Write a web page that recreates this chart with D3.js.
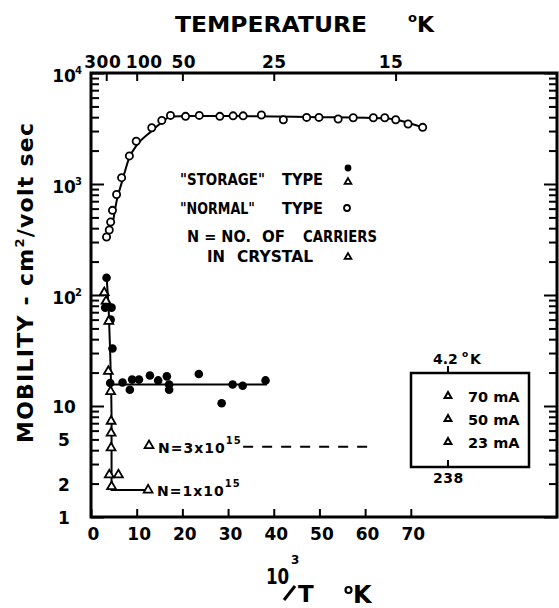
<!DOCTYPE html>
<html>
<head>
<meta charset="utf-8">
<script src="https://cdn.jsdelivr.net/npm/d3@7"></script>
<style>
  body { margin: 0; background: #fff; }
  svg { font-family: 'DejaVu Sans', sans-serif; font-weight: bold; }
  .tick text { font-family: 'DejaVu Sans', sans-serif; font-weight: bold; font-size: 16px; }
</style>
</head>
<body>
<div id="chart"></div>
<script>
'use strict';
// mobility vs 10^3/T, log y
const xTickValues = [0, 10, 20, 30, 40, 50, 60, 70]
const tempTicks = [300, 100, 50, 25, 15]
const yLabelValues = [1, 2, 5, 10, 100, 1000, 10000]
const yLabelBase = ['1', '2', '5', '10', '10', '10', '10']
const yLabelSup = ['', '', '', '', '2', '3', '4']

// "normal" type, open circles
const normalX = [3.4, 4.0, 4.3, 4.7, 5.6, 6.7, 8.4, 9.9, 13.3, 15.5, 17.4, 20.7, 23.7, 28.2, 31.1, 33.3, 37.3, 42.1, 47.2, 49.9, 54.1, 57.4, 61.8, 64.3, 66.7, 69.4, 72.6]
const normalY = [333, 385, 454, 579, 804, 1140, 1790, 2430, 3210, 3740, 4150, 4070, 4150, 4070, 4110, 4110, 4180, 3790, 3980, 3980, 3850, 3950, 3950, 3950, 3790, 3470, 3240]
const normalFitX = [4.8, 5.6, 6.8, 8.4, 9.9, 13.3, 15.5, 17.5, 22, 35, 50, 60, 65, 68, 72.6]
const normalFitY = [450, 700, 1050, 1740, 2200, 3000, 3600, 4050, 4100, 4080, 4000, 3950, 3900, 3700, 3240]

// "storage" type, filled dots
const storageDotX = [3.4, 3.1, 4.5, 4.3, 4.7, 4.2, 6.9, 8.5, 9.0, 10.5, 12.9, 14.7, 16.6, 17.1, 17.1, 23.6, 28.6, 31.0, 33.2, 38.2]
const storageDotY = [143, 77, 77, 60, 33, 16.1, 16.3, 14.0, 17.3, 17.3, 18.8, 17.0, 18.5, 15.6, 14.0, 19.4, 10.6, 15.6, 15.2, 17.0]
const storageDotFitX = [4.2, 38.5]
const storageDotFitY = [15.6, 15.6]

// "storage" type, triangles
const storageTriX = [2.9, 3.3, 3.9, 3.8, 4.3, 4.4, 4.4, 4.4, 4.0, 6.0, 4.5, 12.5]
const storageTriY = [105, 88, 58, 20.5, 13.5, 7.3, 5.7, 4.2, 2.4, 2.4, 1.88, 1.75]
const dropFitX = [3.43, 3.65, 3.87, 4.0, 4.16, 4.3, 4.4, 4.5, 4.5, 12.5]
const dropFitY = [143, 105, 74, 52, 34, 21, 16, 8, 1.75, 1.75]

// N = 3x10^15 level
const n3X = [33.3, 60.5]
const n3Y = [4.3, 4.3]
const n3MarkX = [12.7]
const n3MarkY = [4.4]

const currentLabels = ['70 mA', '50 mA', '23 mA']

const W = 559, H = 608
const frame = { left: 91, right: 557, top: 73, bottom: 517 }

const svg = d3.select('#chart').append('svg')
    .attr('width', W)
    .attr('height', H)

const x = d3.scaleLinear()
    .domain([0, 102])
    .range([frame.left, frame.right])
const y = d3.scaleLog()
    .domain([1, 1e4])
    .range([frame.bottom, frame.top])

const minorTicks = y.ticks().filter(d => Math.log10(d) % 1 !== 0)
const majorTicks = [1, 10, 100, 1000, 10000]

function styleAxis(g) {
    g.select('.domain').remove()
    g.selectAll('.tick line').attr('stroke', '#000').attr('stroke-width', 2)
    g.selectAll('.tick text').attr('fill', '#000')
}

svg.append('g') // bottom axis, ticks inside
    .attr('transform', `translate(0,${frame.bottom})`)
    .call(d3.axisBottom(x).tickValues(xTickValues).tickSizeInner(-8).tickSizeOuter(0).tickPadding(11).tickFormat(d3.format('d')))
    .call(styleAxis)
    .selectAll('.tick text').style('font-size', '17px').attr('dx', 2)

const tempLabelShift = [-4, 7, 1, 0, -5] // hand lettering sits a bit off the ticks
svg.append('g') // top temperature axis
    .attr('transform', `translate(0,${frame.top})`)
    .call(d3.axisTop(x).tickValues(tempTicks.map(t => 1000 / t)).tickSizeInner(-8).tickSizeOuter(0).tickPadding(5)
        .tickFormat((d, i) => tempTicks[i]))
    .call(styleAxis)
    .selectAll('.tick text')
    .style('font-size', '17px').style('letter-spacing', '0.5px')
    .attr('dx', (d, i) => tempLabelShift[i])

svg.append('g') // left minor
    .attr('transform', `translate(${frame.left},0)`)
    .call(d3.axisLeft(y).tickValues(minorTicks).tickSizeInner(-8).tickSizeOuter(0).tickFormat(''))
    .call(styleAxis)
svg.append('g') // left major
    .attr('transform', `translate(${frame.left},0)`)
    .call(d3.axisLeft(y).tickValues(majorTicks).tickSizeInner(-13).tickSizeOuter(0).tickFormat(''))
    .call(styleAxis)
svg.append('g') // right minor
    .attr('transform', `translate(${frame.right},0)`)
    .call(d3.axisRight(y).tickValues(minorTicks).tickSizeInner(-8).tickSizeOuter(0).tickFormat(''))
    .call(styleAxis)
svg.append('g') // right major
    .attr('transform', `translate(${frame.right},0)`)
    .call(d3.axisRight(y).tickValues(majorTicks).tickSizeInner(-13).tickSizeOuter(0).tickFormat(''))
    .call(styleAxis)

// left tick labels with exponents
const yl = svg.append('g').attr('class', 'ylabels')
yl.selectAll('text.base').data(yLabelValues).enter().append('text')
    .attr('class', 'base')
    .attr('x', 64)
    .attr('y', (d, i) => y(d) + (i > 3 ? 9 : 7))
    .attr('text-anchor', 'middle')
    .style('font-size', '17px')
    .text((d, i) => yLabelBase[i])
yl.selectAll('text.sup').data(yLabelValues).enter().append('text')
    .attr('class', 'sup')
    .attr('x', 75)
    .attr('y', (d, i) => y(d) + 1)
    .style('font-size', '10px')
    .text((d, i) => yLabelSup[i])

// frame
svg.append('rect')
    .attr('x', frame.left)
    .attr('y', frame.top)
    .attr('width', frame.right - frame.left)
    .attr('height', frame.bottom - frame.top)
    .attr('fill', 'none')
    .attr('stroke', '#000')
    .attr('stroke-width', 3)

const line = d3.line()
    .x(d => x(d[0]))
    .y(d => y(d[1]))
const zip = (a, b) => a.map((v, i) => [v, b[i]])

svg.append('path') // normal fit
    .datum(zip(normalFitX, normalFitY))
    .attr('fill', 'none').attr('stroke', '#000').attr('stroke-width', 2)
    .attr('d', line.curve(d3.curveMonotoneX))
line.curve(d3.curveLinear)

svg.append('path') // storage dot level
    .datum(zip(storageDotFitX, storageDotFitY))
    .attr('fill', 'none').attr('stroke', '#000').attr('stroke-width', 2)
    .attr('d', line)

svg.append('path') // steep drop + N=1e15 level
    .datum(zip(dropFitX, dropFitY))
    .attr('fill', 'none').attr('stroke', '#000').attr('stroke-width', 2)
    .attr('d', line)

svg.append('path') // N=3e15 dashed
    .datum(zip(n3X, n3Y))
    .attr('fill', 'none').attr('stroke', '#000').attr('stroke-width', 2)
    .attr('stroke-dasharray', '10,9')
    .attr('d', line)

svg.append('g').selectAll('circle') // normal circles
    .data(zip(normalX, normalY)).enter().append('circle')
    .attr('cx', d => x(d[0])).attr('cy', d => y(d[1]))
    .attr('r', 3.6)
    .attr('fill', '#fff').attr('stroke', '#000').attr('stroke-width', 1.8)

svg.append('g').selectAll('circle') // storage dots
    .data(zip(storageDotX, storageDotY)).enter().append('circle')
    .attr('cx', d => x(d[0])).attr('cy', d => y(d[1]))
    .attr('r', 4.3)
    .attr('fill', '#000')

const tri = d3.symbol(d3.symbolTriangle, 34)
svg.append('g').selectAll('path') // storage triangles
    .data(zip(storageTriX, storageTriY).concat(zip(n3MarkX, n3MarkY))).enter().append('path')
    .attr('transform', d => `translate(${x(d[0])},${y(d[1])})`)
    .attr('d', tri)
    .attr('fill', '#fff').attr('stroke', '#000').attr('stroke-width', 1.8)

// N labels
const nLabel = (px, py, txt) => {
    const t = svg.append('text').attr('x', px).attr('y', py).style('font-size', '14px').style('letter-spacing', '1px')
    t.append('tspan').text(txt)
    t.append('tspan').attr('dy', -9).style('font-size', '10px').text('15')
}
nLabel(x(n3MarkX[0]) + 9, y(n3MarkY[0]) + 7, 'N=3x10')
nLabel(x(storageTriX[11]) + 9, y(storageTriY[11]) + 6, 'N=1x10')

// key text
const key = svg.append('g').style('font-size', '15.5px')
const keyText = (px, py, len, txt) => key.append('text')
    .attr('x', px).attr('y', py)
    .attr('textLength', len).attr('lengthAdjust', 'spacingAndGlyphs')
    .text(txt)
keyText(180, 185, 85, '"STORAGE"')
keyText(282, 185, 41, 'TYPE')
keyText(180, 214, 75, '"NORMAL"')
keyText(282, 214, 41, 'TYPE')
keyText(187, 242, 64, 'N = NO.')
keyText(262, 242, 23, 'OF')
keyText(303, 242, 74, 'CARRIERS')
keyText(207, 262, 18, 'IN')
keyText(237, 262, 76, 'CRYSTAL')
key.append('circle').attr('cx', 348).attr('cy', 168).attr('r', 3.4).attr('fill', '#000')
key.append('path').attr('transform', 'translate(348,182)').attr('d', d3.symbol(d3.symbolTriangle, 20)).attr('fill', '#fff').attr('stroke', '#000').attr('stroke-width', 1.8)
key.append('circle').attr('cx', 347).attr('cy', 208).attr('r', 3).attr('fill', '#fff').attr('stroke', '#000').attr('stroke-width', 1.8)
key.append('path').attr('transform', 'translate(348,257)').attr('d', d3.symbol(d3.symbolTriangle, 20)).attr('fill', '#fff').attr('stroke', '#000').attr('stroke-width', 1.8)

// 4.2 K inset
const box = svg.append('g')
box.append('rect')
    .attr('x', 411).attr('y', 373).attr('width', 118).attr('height', 94)
    .attr('fill', 'none').attr('stroke', '#000').attr('stroke-width', 2.5)
box.append('line').attr('x1', 448).attr('x2', 448).attr('y1', 373).attr('y2', 366).attr('stroke', '#000').attr('stroke-width', 2)
box.append('line').attr('x1', 448).attr('x2', 448).attr('y1', 467).attr('y2', 460).attr('stroke', '#000').attr('stroke-width', 2)
box.append('text').attr('x', 433).attr('y', 364).style('font-size', '14px').text('4.2')
box.append('text').attr('x', 462).attr('y', 357).style('font-size', '9px').text('o')
box.append('text').attr('x', 470).attr('y', 364).style('font-size', '14px').text('K')
box.append('text').attr('x', 433).attr('y', 483).style('font-size', '14px').style('letter-spacing', '0.5px').text('238')
box.selectAll('path.cur').data(currentLabels).enter().append('path')
    .attr('class', 'cur')
    .attr('transform', (d, i) => `translate(448,${396 + i * 23})`)
    .attr('d', d3.symbol(d3.symbolTriangle, 20))
    .attr('fill', '#fff').attr('stroke', '#000').attr('stroke-width', 2)
box.selectAll('text.cur').data(currentLabels).enter().append('text')
    .attr('class', 'cur')
    .attr('x', 468)
    .attr('y', (d, i) => 402 + i * 23)
    .style('font-size', '14.5px')
    .text(d => d)

// titles
svg.append('text')
    .attr('x', 175).attr('y', 32)
    .attr('textLength', 192).attr('lengthAdjust', 'spacingAndGlyphs')
    .style('font-size', '22px')
    .text('TEMPERATURE')
svg.append('text').attr('x', 408).attr('y', 22).style('font-size', '13px').text('o')
svg.append('text').attr('x', 417).attr('y', 32).style('font-size', '22px').text('K')

const yTitle = svg.append('text')
    .attr('transform', 'translate(33,443) rotate(-90)')
    .attr('textLength', 320).attr('lengthAdjust', 'spacing')
    .style('font-size', '22px')
yTitle.append('tspan').text('MOBILITY - cm')
yTitle.append('tspan').attr('dy', -9).style('font-size', '13px').text('2')
yTitle.append('tspan').attr('dy', 9).text('/volt  sec')

const xTitle = svg.append('g')
xTitle.append('text') // narrow "10" like the lettering guide
    .attr('transform', 'translate(266,584) scale(0.76,1)')
    .style('font-size', '22px').text('10')
xTitle.append('text').attr('x', 291).attr('y', 564).style('font-size', '12px').text('3')
xTitle.append('line')
    .attr('x1', 295).attr('y1', 586).attr('x2', 284).attr('y2', 600)
    .attr('stroke', '#000').attr('stroke-width', 3)
xTitle.append('text').attr('x', 298).attr('y', 602).style('font-size', '23px').text('T')
xTitle.append('circle').attr('cx', 348.5).attr('cy', 590).attr('r', 3).attr('fill', 'none').attr('stroke', '#000').attr('stroke-width', 2.2)
xTitle.append('text').attr('x', 353).attr('y', 603).style('font-size', '24px').text('K')
</script>
</body>
</html>
